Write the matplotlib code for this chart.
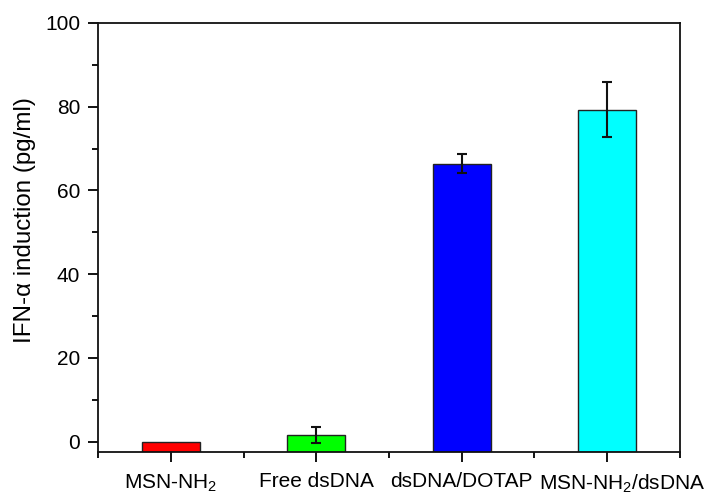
import matplotlib
matplotlib.use("Agg")
import matplotlib.pyplot as plt
import matplotlib.transforms as mtransforms
from matplotlib.ticker import MultipleLocator

categories = ["MSN-NH$_2$", "Free dsDNA", "dsDNA/DOTAP", "MSN-NH$_2$/dsDNA"]
values = [0.0, 1.5, 66.4, 79.3]
errors = [0.0, 1.9, 2.2, 6.5]
colors = ["#ff0000", "#00ff00", "#0000ff", "#00ffff"]

plt.rcParams["font.family"] = ["Liberation Sans", "DejaVu Sans"]
plt.rcParams["mathtext.fontset"] = "custom"
plt.rcParams["mathtext.rm"] = "Liberation Sans"

fig = plt.figure(figsize=(7.11, 4.99), dpi=100)
ax = fig.add_axes([0.138, 0.095, 0.818, 0.859])

ymin = -2.4
pos = list(range(1, len(categories) + 1))
heights = [v - ymin for v in values]
ax.bar(pos, heights, width=0.4, bottom=ymin, color=colors,
       edgecolor="#222222", linewidth=1.0, zorder=2)
for x, v, e in zip(pos, values, errors):
    if e > 0:
        ax.errorbar(x, v, yerr=e, fmt="none", ecolor="#111111",
                    elinewidth=1.5, capsize=3.5, capthick=1.5, zorder=3)

ax.set_xlim(0.5, 4.5)
ax.set_ylim(ymin, 100)
ax.set_xticks(pos)
ax.set_xticklabels(categories, fontsize=15)
ax.xaxis.set_minor_locator(MultipleLocator(0.5))
ax.yaxis.set_major_locator(MultipleLocator(20))
ax.yaxis.set_minor_locator(MultipleLocator(10))
ax.tick_params(axis="both", which="major", direction="out", length=7,
               width=1.3, labelsize=15, pad=6)
ax.tick_params(axis="both", which="minor", direction="out", length=4, width=1.3)
ax.tick_params(axis="x", which="major", pad=8)
for s in ax.spines.values():
    s.set_linewidth(1.3)
    s.set_color("#111111")

# last label sits a bit right of its tick in the original
last = ax.get_xticklabels()[-1]
last.set_transform(last.get_transform() +
                   mtransforms.ScaledTranslation(0.15, 0, fig.dpi_scale_trans))

ax.set_ylabel("IFN-α induction (pg/ml)", fontsize=17.4)
ax.yaxis.set_label_coords(-0.107, 0.54)

fig.savefig("out.png", dpi=100)
